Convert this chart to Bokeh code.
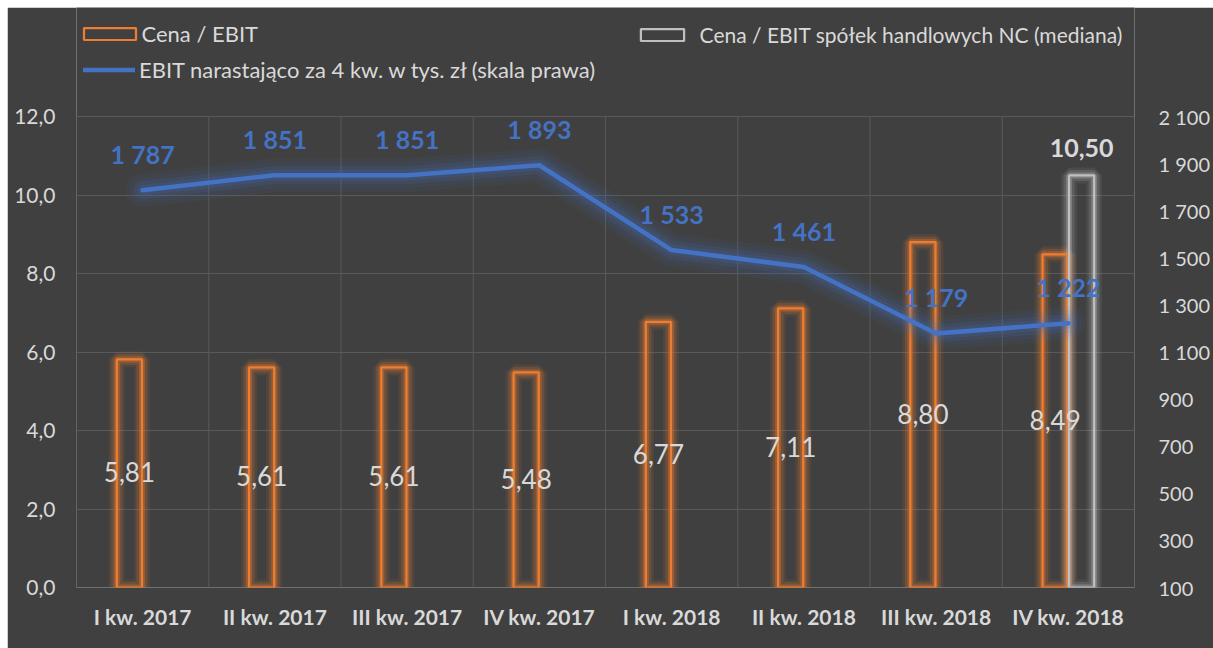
from bokeh.plotting import figure
from bokeh.layouts import column, row
from bokeh.models import (Range1d, LinearAxis, FixedTicker, Legend, LegendItem,
                          ColumnDataSource, LabelSet, Spacer)
from bokeh.transform import dodge
from bokeh.core.properties import value
from bokeh.embed import file_html
from bokeh.resources import INLINE

# ---------------- data ----------------
categories = ["I kw. 2017", "II kw. 2017", "III kw. 2017", "IV kw. 2017",
              "I kw. 2018", "II kw. 2018", "III kw. 2018", "IV kw. 2018"]
cena_ebit = [5.81, 5.61, 5.61, 5.48, 6.77, 7.11, 8.80, 8.49]
mediana_categories = ["IV kw. 2018"]
mediana_values = [10.50]
ebit_4kw = [1787, 1851, 1851, 1893, 1533, 1461, 1179, 1222]
left_ticks = [0, 2, 4, 6, 8, 10, 12]
right_ticks = [100, 300, 500, 700, 900, 1100, 1300, 1500, 1700, 1900, 2100]

name_bar = "Cena / EBIT"
name_med = "Cena / EBIT spółek handlowych NC (mediana)"
name_line = "EBIT narastająco za 4 kw. w tys. zł (skala prawa)"

# ---------------- style ----------------
BG = "#404040"
GRID = "#595959"
TXT = "#D9D9D9"
ORANGE = "#ED7D31"
GREY = "#BFBFBF"
BLUE = "#4472C4"
FONT = "Lato"

# plot area geometry (pixels): the frame reaches the top of the figure so the
# legend (drawn inside the frame) is not clipped; axes only span the ticks.
PLOT_H = 471          # height of the gridded area
FRAME_H = 580         # gridded area + legend area
ext = FRAME_H / PLOT_H

idx = list(range(len(categories)))
src_bar = ColumnDataSource(dict(
    x=idx, y=cena_ebit, ymid=[v / 2 for v in cena_ebit],
    lab=[f"{v:.2f}".replace(".", ",") for v in cena_ebit]))
src_med = ColumnDataSource(dict(
    x=[categories.index(c) for c in mediana_categories], y=mediana_values,
    lab=[f"{v:.2f}".replace(".", ",") for v in mediana_values]))
src_line = ColumnDataSource(dict(
    x=idx, y=ebit_4kw, lab=[f"{v:,}".replace(",", " ") for v in ebit_4kw]))
bounds = [i - 0.5 for i in range(len(categories) + 1)]
src_vgrid = ColumnDataSource(dict(x=bounds, y0=[left_ticks[0]] * len(bounds),
                                  y1=[left_ticks[-1]] * len(bounds)))

lo, hi = left_ticks[0], left_ticks[-1]
rlo, rhi = right_ticks[0], right_ticks[-1]
p = figure(width=1206, height=641,
           x_range=Range1d(-0.5, len(categories) - 0.5),
           y_range=Range1d(lo, lo + (hi - lo) * ext),
           output_backend="svg", toolbar_location=None,
           background_fill_color=BG, border_fill_color=BG,
           outline_line_color=None,
           min_border_left=69, min_border_right=77,
           min_border_top=0, min_border_bottom=61)
p.extra_y_ranges = {"ebit": Range1d(rlo, rlo + (rhi - rlo) * ext)}

# grid
p.xgrid.visible = False
p.ygrid.ticker = FixedTicker(ticks=left_ticks[1:])
p.ygrid.grid_line_color = GRID
p.segment(x0="x", y0="y0", x1="x", y1="y1", source=src_vgrid,
          line_color=GRID, line_width=1)

# axes
ax = p.xaxis[0]
ax.ticker = FixedTicker(ticks=idx)
ax.major_label_overrides = {i: c for i, c in zip(idx, categories)}
ay = p.yaxis[0]
ay.ticker = FixedTicker(ticks=left_ticks)
ay.major_label_overrides = {t: f"{t:.1f}".replace(".", ",") for t in left_ticks}
ar = LinearAxis(y_range_name="ebit")
ar.ticker = FixedTicker(ticks=right_ticks)
ar.major_label_overrides = {t: f"{t:,}".replace(",", " ") for t in right_ticks}
p.add_layout(ar, "right")
for a in (ax, ay, ar):
    a.axis_line_color = None
    a.major_tick_line_color = None
    a.minor_tick_line_color = None
    a.major_tick_out = 0
    a.major_tick_in = 0
    a.minor_tick_out = 0
    a.major_label_text_color = TXT
    a.major_label_text_font = FONT
    a.major_label_text_font_size = "20px"
ay.major_label_text_font_size = "21px"
ax.major_label_text_font_style = "bold"
ax.major_label_text_font_size = "21px"
ax.major_label_standoff = 16
ay.major_label_standoff = 21
ar.major_label_standoff = 24

W = 0.19
OFF = 0.1
# bar glow
for lw, la in ((16, 0.10), (11, 0.18), (6, 0.32)):
    p.vbar(x=dodge("x", -OFF), top="y", bottom=0, width=W, source=src_bar,
           fill_alpha=0, line_color=ORANGE, line_alpha=la, line_width=lw)
    p.vbar(x=dodge("x", OFF), top="y", bottom=0, width=W, source=src_med,
           fill_alpha=0, line_color="#FFFFFF", line_alpha=la * 0.6, line_width=lw)
r_bar = p.vbar(x=dodge("x", -OFF), top="y", bottom=0, width=W, source=src_bar,
               fill_alpha=0, line_color=ORANGE, line_width=2.25)
r_med = p.vbar(x=dodge("x", OFF), top="y", bottom=0, width=W, source=src_med,
               fill_alpha=0, line_color=GREY, line_width=2.25)

# line glow
for lw, la in ((34, 0.06), (26, 0.08), (18, 0.11), (11, 0.16)):
    p.line("x", "y", source=src_line, y_range_name="ebit", line_color=BLUE,
           line_alpha=la, line_width=lw, line_join="round", line_cap="round")
r_line = p.line("x", "y", source=src_line, y_range_name="ebit", line_color=BLUE,
                line_width=4.5, line_join="round", line_cap="round")

# labels
p.add_layout(LabelSet(x=dodge("x", -OFF), y="ymid", text="lab", source=src_bar,
                      text_align="center", text_baseline="alphabetic", y_offset=-9,
                      text_color=TXT, text_font=value(FONT), text_font_size="26px"))
p.add_layout(LabelSet(x=dodge("x", OFF), y="y", text="lab", source=src_med,
                      text_align="center", text_baseline="alphabetic", y_offset=18,
                      text_color=TXT, text_font=value(FONT), text_font_size="25px",
                      text_font_style="bold"))
p.add_layout(LabelSet(x="x", y="y", text="lab", source=src_line, y_range_name="ebit",
                      text_align="center", text_baseline="alphabetic", y_offset=26,
                      text_color=BLUE, text_font=value(FONT), text_font_size="25px",
                      text_font_style="bold"))

# legends
def mk_legend(label, rend, loc, gw, standoff, fs):
    lg = Legend(items=[LegendItem(label=label, renderers=[rend])], location=loc,
                orientation="horizontal", padding=0, margin=0, spacing=0,
                glyph_width=gw, glyph_height=15, label_height=15,
                label_standoff=standoff,
                label_text_color=TXT, label_text_font=FONT,
                label_text_font_size=fs,
                border_line_alpha=0, background_fill_alpha=0)
    p.add_layout(lg, "center")

mk_legend(name_bar, r_bar, (0.5, 540.5), 65, 0, "22px")
mk_legend(name_med, r_med, (558.6, 540.5), 54, 11, "21px")
mk_legend(name_line, r_line, (7, 504.5), 52, 4, "22px")

layout = column(Spacer(height=7), row(Spacer(width=7), p, spacing=0), spacing=0)
open("out.html", "w").write(file_html(layout, INLINE))
